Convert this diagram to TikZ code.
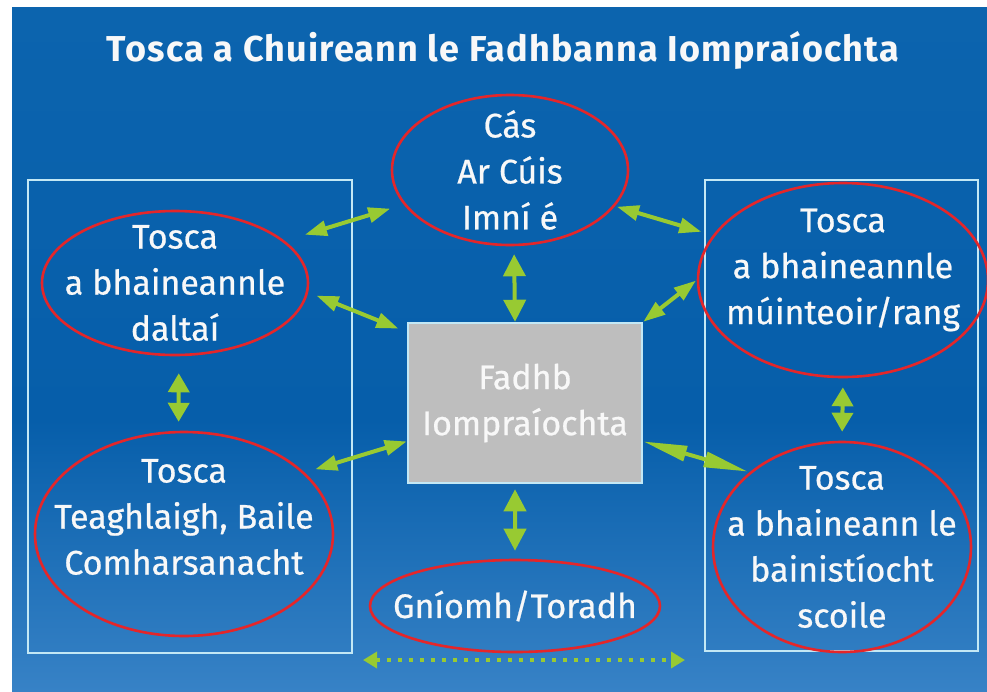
\documentclass[tikz,border=0pt]{standalone}
\usepackage{fontspec}
\setmainfont{Fira Sans}
\newfontfamily\bodyfont{Fira Sans}[FakeBold=0.6]
\newfontfamily\titlefont{Fira Sans}[LetterSpace=3.2]
\usetikzlibrary{arrows.meta,shapes.geometric,calc}
\definecolor{bgtop}{RGB}{12,100,174}
\definecolor{bgmid}{RGB}{6,94,170}
\definecolor{bgbot}{RGB}{55,130,198}
\definecolor{redc}{RGB}{228,38,42}
\definecolor{greenc}{RGB}{152,202,50}
\definecolor{framec}{RGB}{195,232,245}
\definecolor{grayc}{RGB}{190,190,190}
\definecolor{txtc}{RGB}{248,248,248}
\begin{document}
\begin{tikzpicture}[x=1pt,y=-1pt,
  ell/.style={ellipse, draw=redc, line width=2.6pt, inner sep=0pt},
  txt/.style={text=txtc, align=center, font=\bodyfont\fontsize{34}{46}\selectfont, inner sep=0pt},
  frame/.style={draw=framec, line width=2.5pt, inner sep=0pt},
  arrbase/.style={draw=greenc, line width=4pt},
  arrv/.style={arrbase, {Triangle[length=22pt,width=22pt]}-{Triangle[length=22pt,width=22pt]}},
  arrs/.style={arrbase, {Triangle[length=19pt,width=21pt]}-{Triangle[length=19pt,width=21pt]}},
  arrd/.style={arrbase, {Triangle[length=22pt,width=15pt]}-{Triangle[length=22pt,width=15pt]}},
  arrl/.style={arrbase, {Triangle[length=44pt,width=15pt]}-{Triangle[length=44pt,width=15pt]}},
  dotarr/.style={draw=greenc, line width=4pt, dash pattern=on 4pt off 7pt, {Triangle[length=14pt,width=16pt]}-{Triangle[length=14pt,width=16pt]}}
]
\useasboundingbox (0,0) rectangle (987,691);
\fill[white] (0,0) rectangle (987,691);
\shade[top color=bgtop, bottom color=bgmid] (12,7) rectangle (987,420.5);
\shade[top color=bgmid, bottom color=bgbot] (12,420) rectangle (987,691);

\node[text=txtc, font=\titlefont\fontsize{36}{40}\selectfont\bfseries, inner sep=0pt] (title) at (503,50) {Tosca a Chuireann le Fadhbanna Iompraíochta};

\node[frame, minimum width=324pt, minimum height=473pt] (lbox) at (190,416.5) {};
\node[frame, minimum width=273pt, minimum height=471pt] (rbox) at (841.5,415.5) {};

\node[ell, minimum width=236pt, minimum height=150pt, label={[txt]center:Cás\\Ar Cúis\\Imní é}] (top) at (510,170) {};
\node[ell, minimum width=266pt, minimum height=144pt, label={[txt]center:Tosca\\a bhaineannle\\daltaí}] (lt) at (175,283) {};
\node[ell, minimum width=298pt, minimum height=204pt, label={[txt, yshift=17pt]center:Tosca\\Teaghlaigh, Baile\\Comharsanacht}] (lb) at (184,534) {};
\node[ell, minimum width=290pt, minimum height=194pt, label={[txt, yshift=10pt]center:Tosca\\a bhaineannle\\múinteoir/rang}] (rt) at (843,280) {};
\node[ell, minimum width=258pt, minimum height=210pt, label={[txt]center:Tosca\\a bhaineann le\\bainistíocht\\scoile}] (rb) at (842,547) {};
\node[ell, minimum width=290pt, minimum height=92pt, label={[txt]center:Gníomh/Toradh}] (bot) at (515,606) {};

\node[draw=framec, fill=grayc, line width=2.5pt, minimum width=234pt, minimum height=160pt, text=txtc, align=center, font=\bodyfont\fontsize{34}{46}\selectfont] (cb) at (525,403) {Fadhb\\Iompraíochta};

\draw[arrd, shorten <=21pt, shorten >=14pt] (lt.21.3) -- (top.198.9);
\draw[arrd, shorten <=9pt, shorten >=9pt] (lt.-4.5) -- (cb.149.7);
\draw[arrs, shorten <=17pt, shorten >=9pt] (lt.-87) -- (lb.93);
\draw[arrd, shorten <=11pt] (lb.27.6) -- (cb.198.9);
\draw[arrv, shorten <=8pt] (top.-87) -- (cb.97.8);
\draw[arrd, shorten <=2pt, shorten >=12pt] (top.-19.4) -- (rt.161.2);
\draw[arrd, shorten <=1pt] (rt.180) -- (cb.north east);
\draw[arrs, shorten <=9pt, shorten >=9pt] (rt.south) -- (rb.north);
\draw[arrl, shorten >=2pt] (cb.-18) -- (rb.141.4);
\draw[arrv, shorten <=5pt, shorten >=8pt] (cb.-97.8) -- (bot.90);

\coordinate (dl) at (363,660);
\coordinate (dr) at (685,660);
\draw[dotarr] (dl) -- (dr);
\end{tikzpicture}
\end{document}
